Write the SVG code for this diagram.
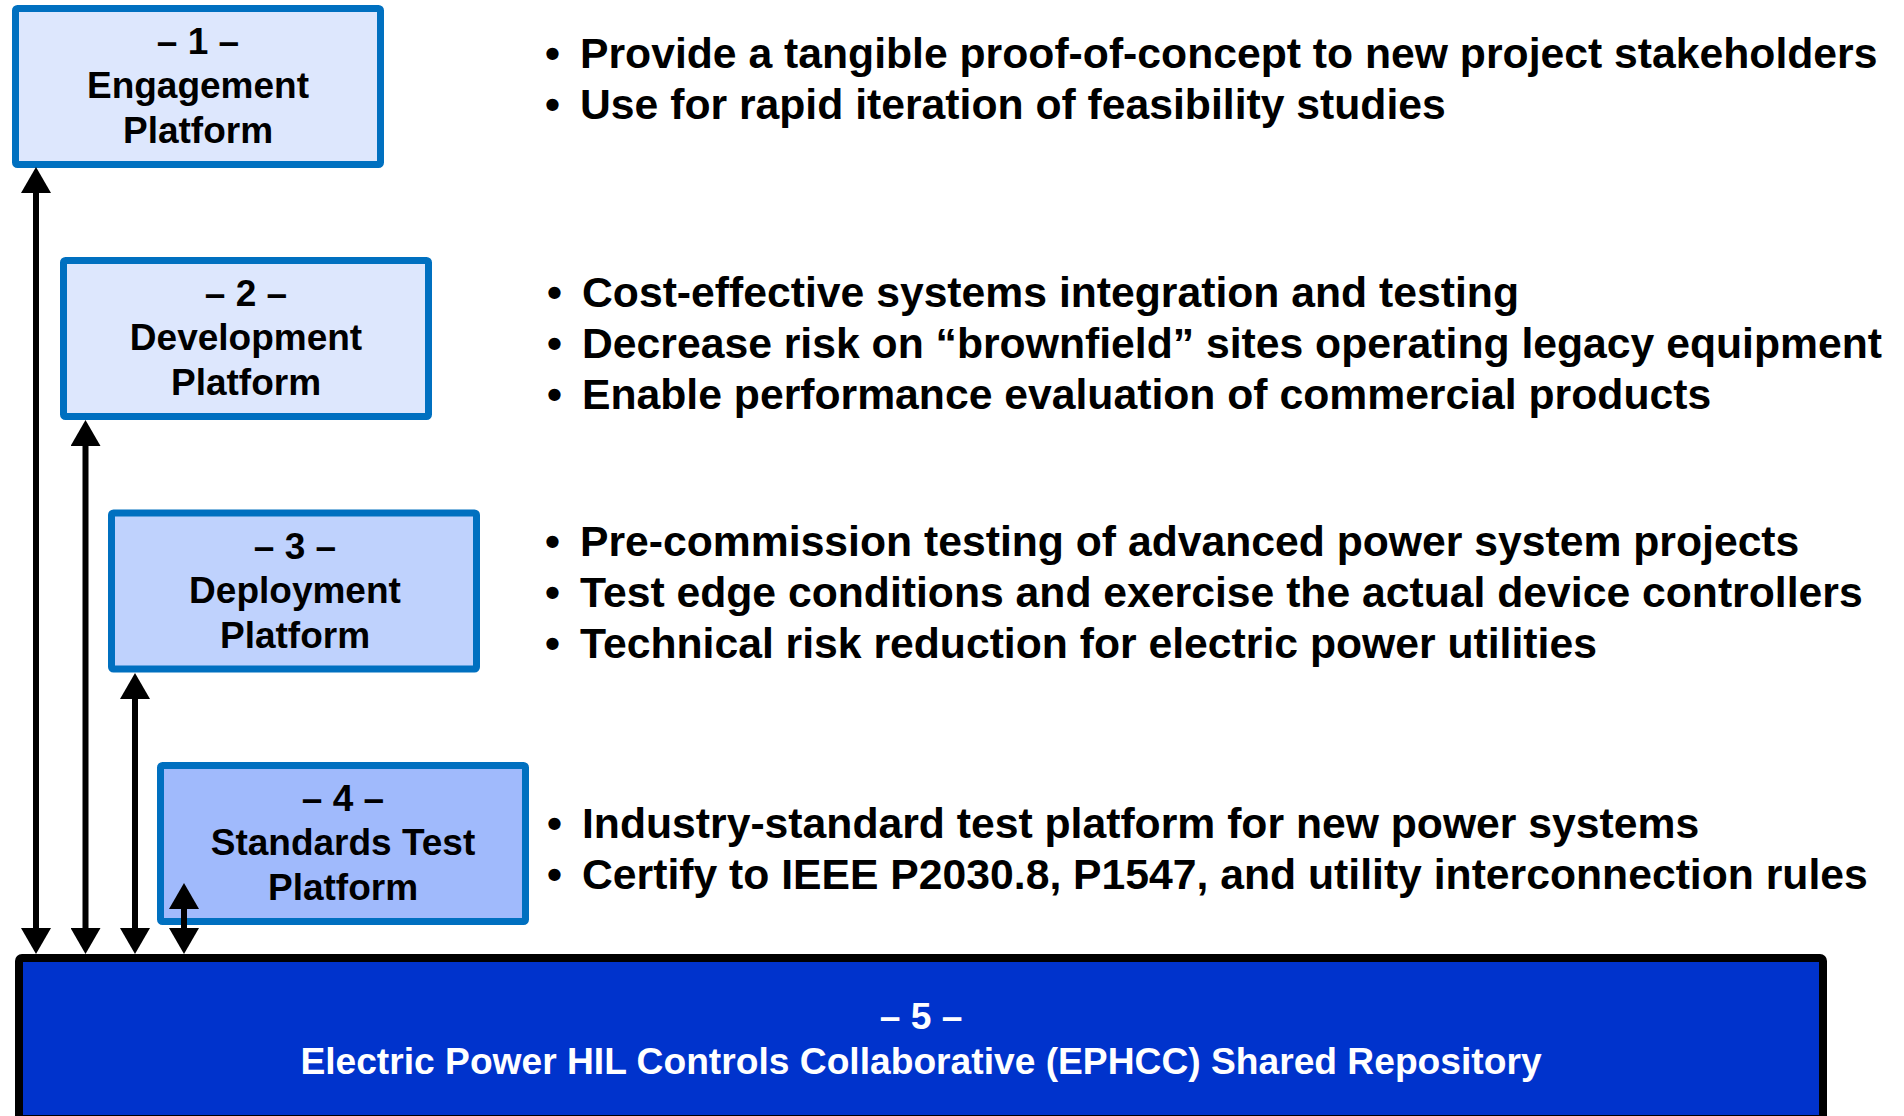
<svg xmlns="http://www.w3.org/2000/svg" width="1904" height="1116" viewBox="0 0 1904 1116">
  <defs>
    <marker id="head" viewBox="0 0 26 30" refX="0" refY="15" markerWidth="26" markerHeight="30" markerUnits="userSpaceOnUse" orient="auto-start-reverse">
      <path d="M0,0 L26,15 L0,30 Z" fill="#000"/>
    </marker>
    <style>
      .box { stroke: #0070C0; stroke-width: 7; }
      .b1 { fill: #DDE7FD; }
      .b3 { fill: #BFD2FD; }
      .b4 { fill: #A0BAFC; }
      .lbl { font-family: "Liberation Sans", Arial, sans-serif; font-weight: bold; font-size: 37px; text-anchor: middle; fill: #000; }
      .repo { fill: #0033CC; stroke: #000; stroke-width: 8; }
      .repo-lbl { font-family: "Liberation Sans", Arial, sans-serif; font-weight: bold; font-size: 37.2px; text-anchor: middle; fill: #fff; }
      .bul { font-family: "Liberation Sans", Arial, sans-serif; font-weight: bold; font-size: 42.7px; fill: #000; }
      .conn line { stroke: #000; stroke-width: 6; marker-start: url(#head); marker-end: url(#head); }
    </style>
  </defs>

  <rect width="1904" height="1116" fill="#fff"/>

  <!-- platform 1 -->
  <g id="engagement">
    <rect class="box b1" x="15.5" y="8.5" width="365" height="156" rx="2"/>
    <text class="lbl" x="198" y="54">– 1 –</text>
    <text class="lbl" x="198" y="98">Engagement</text>
    <text class="lbl" x="198" y="143">Platform</text>
  </g>

  <!-- platform 2 -->
  <g id="development">
    <rect class="box b1" x="63.5" y="260.5" width="365" height="156" rx="2"/>
    <text class="lbl" x="246" y="306">– 2 –</text>
    <text class="lbl" x="246" y="350">Development</text>
    <text class="lbl" x="246" y="395">Platform</text>
  </g>

  <!-- platform 3 -->
  <g id="deployment">
    <rect class="box b3" x="111.5" y="513" width="365" height="156" rx="2"/>
    <text class="lbl" x="295" y="559">– 3 –</text>
    <text class="lbl" x="295" y="603">Deployment</text>
    <text class="lbl" x="295" y="648">Platform</text>
  </g>

  <!-- platform 4 -->
  <g id="standards">
    <rect class="box b4" x="160.5" y="765.5" width="365" height="156" rx="2"/>
    <text class="lbl" x="343" y="811">– 4 –</text>
    <text class="lbl" x="343" y="855">Standards Test</text>
    <text class="lbl" x="343" y="900">Platform</text>
  </g>

  <!-- shared repository -->
  <g id="repository">
    <rect class="repo" x="19" y="958" width="1804" height="161" rx="3"/>
    <text class="repo-lbl" x="921" y="1029">– 5 –</text>
    <text class="repo-lbl" x="921" y="1074">Electric Power HIL Controls Collaborative (EPHCC) Shared Repository</text>
  </g>

  <!-- double-headed links between each platform and the repository -->
  <g id="connectors" class="conn">
    <line x1="36" y1="193" x2="36" y2="928"/>
    <line x1="85.5" y1="446" x2="85.5" y2="928"/>
    <line x1="135" y1="699" x2="135" y2="928"/>
    <line x1="184" y1="909" x2="184" y2="928"/>
  </g>

  <!-- descriptions -->
  <g id="notes-1">
    <text class="bul" x="545" y="68">•</text>
    <text class="bul" x="580" y="68">Provide a tangible proof-of-concept to new project stakeholders</text>
    <text class="bul" x="545" y="119">•</text>
    <text class="bul" x="580" y="119">Use for rapid iteration of feasibility studies</text>
  </g>
  <g id="notes-2">
    <text class="bul" x="547" y="307">•</text>
    <text class="bul" x="582" y="307">Cost-effective systems integration and testing</text>
    <text class="bul" x="547" y="358">•</text>
    <text class="bul" x="582" y="358">Decrease risk on “brownfield” sites operating legacy equipment</text>
    <text class="bul" x="547" y="409">•</text>
    <text class="bul" x="582" y="409">Enable performance evaluation of commercial products</text>
  </g>
  <g id="notes-3">
    <text class="bul" x="545" y="556">•</text>
    <text class="bul" x="580" y="556">Pre-commission testing of advanced power system projects</text>
    <text class="bul" x="545" y="607">•</text>
    <text class="bul" x="580" y="607">Test edge conditions and exercise the actual device controllers</text>
    <text class="bul" x="545" y="658">•</text>
    <text class="bul" x="580" y="658">Technical risk reduction for electric power utilities</text>
  </g>
  <g id="notes-4">
    <text class="bul" x="547" y="838">•</text>
    <text class="bul" x="582" y="838">Industry-standard test platform for new power systems</text>
    <text class="bul" x="547" y="889">•</text>
    <text class="bul" x="582" y="889">Certify to IEEE P2030.8, P1547, and utility interconnection rules</text>
  </g>
</svg>
